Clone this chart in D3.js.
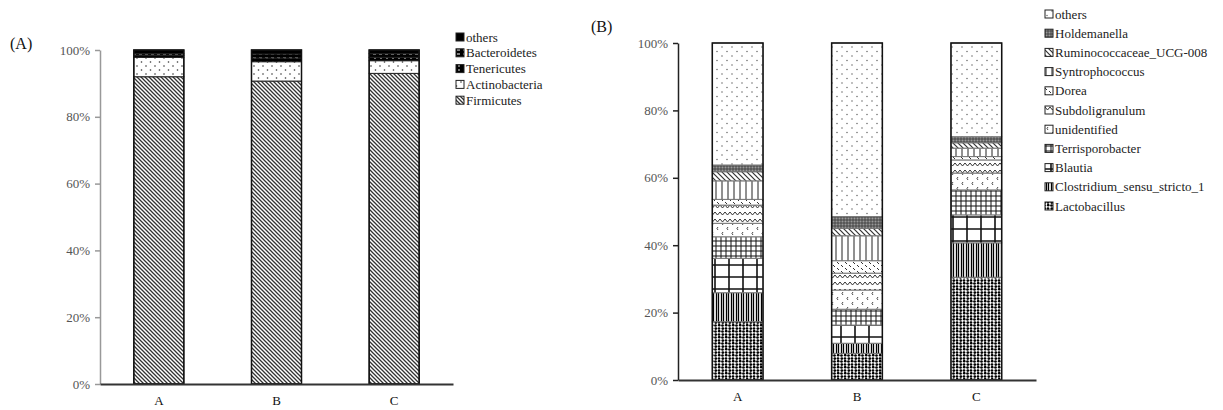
<!DOCTYPE html>
<html>
<head>
<meta charset="utf-8">
<style>
  body { margin: 0; background: white; }
  svg text { font-family: 'Liberation Serif', 'Times New Roman', serif !important; }
  .tick text { fill: #555; font-size: 13px; }
  .xlab .tick text { fill: #111; }
  .legend text { font-size: 13px; fill: #222; }
  .plabel { font-size: 16px; fill: #111; }
</style>
</head>
<body>
<script src="https://d3js.org/d3.v7.min.js"></script>
<div id="chart"></div>
<script>
// samples
var samples = ["A", "B", "C"];
var yTicks = [0, 20, 40, 60, 80, 100];

// panel A: phyla, bottom to top
var phyla = ["Firmicutes", "Actinobacteria", "Tenericutes", "Bacteroidetes", "others"];
var phylaA = [92.0, 5.8, 0.6, 0.5, 1.1];
var phylaB = [90.7, 5.8, 1.1, 1.2, 1.2];
var phylaC = [93.0, 3.8, 1.0, 1.1, 1.1];

// panel B: genera, bottom to top
var genera = ["Lactobacillus", "Clostridium_sensu_stricto_1", "Blautia", "Terrisporobacter",
  "unidentified", "Subdoligranulum", "Dorea", "Syntrophococcus", "Ruminococcaceae_UCG-008",
  "Holdemanella", "others"];
var generaA = [17.3, 8.6, 10.2, 6.4, 4.0, 5.4, 1.7, 5.5, 2.7, 2.0, 36.2];
var generaB = [7.9, 3.0, 5.4, 4.7, 5.7, 5.0, 3.7, 7.4, 2.2, 3.5, 51.5];
var generaC = [30.5, 10.2, 8.3, 7.4, 5.0, 3.9, 1.0, 2.5, 1.6, 1.8, 27.8];

var svg = d3.select("#chart").append("svg")
  .attr("width", 1223).attr("height", 410);
var defs = svg.append("defs");

// helper to make a fill pattern
function pat(id, w, h, bg, draw) {
  var p = defs.append("pattern").attr("id", id)
    .attr("patternUnits", "userSpaceOnUse").attr("width", w).attr("height", h);
  p.append("rect").attr("width", w).attr("height", h).attr("fill", bg);
  draw(p);
}
function dots(p, pts, r, c) {
  pts.forEach(function(d) { p.append("circle").attr("cx", d[0]).attr("cy", d[1]).attr("r", r).attr("fill", c); });
}
function path(p, d, sw, c) {
  p.append("path").attr("d", d).attr("fill", "none").attr("stroke", c).attr("stroke-width", sw);
}

// phyla patterns
pat("p0", 4, 4, "#fff", function(p) { path(p, "M0,0L4,4M-1,3L1,5M3,-1L5,1", 1.3, "#333"); });
pat("p1", 9, 8, "#fff", function(p) { dots(p, [[2, 2], [6.5, 6]], 0.8, "#333"); });
pat("p2", 6, 4, "#000", function(p) { dots(p, [[3, 2]], 0.8, "#fff"); });
pat("p3", 6, 4, "#000", function(p) { path(p, "M1,2L4,2", 1, "#fff"); });
pat("p4", 4, 4, "#000", function(p) {});

// genus patterns
pat("g0", 7, 6, "#fff", function(p) { dots(p, [[1.5, 1.5], [5, 4.5], [5.2, 1.2], [1.8, 4.6]], 1.35, "#000"); });
pat("g1", 5, 4, "#fff", function(p) { path(p, "M1.5,0V4M3.5,0V4", 1.3, "#000"); });
pat("g2", 14, 12, "#fff", function(p) { path(p, "M1,0V12M0,1H14", 1.6, "#111"); });
pat("g3", 5, 5, "#fff", function(p) { path(p, "M1,0V5M0,1H5", 1, "#111"); });
pat("g4", 10, 10, "#fff", function(p) { path(p, "M3,2L2,3.5L3,5M8,7L7,8.5L8,10", 1, "#444"); });
pat("g5", 10, 7, "#fff", function(p) { path(p, "M0,2L2.5,5L5,2L7.5,5L10,2", 1, "#333"); });
pat("g6", 8, 6, "#fff", function(p) { path(p, "M1,1L3,3M5,4L7,6", 1, "#333"); });
pat("g7", 6, 4, "#fff", function(p) { path(p, "M2,0V4", 1, "#222"); });
pat("g8", 5, 5, "#fff", function(p) { path(p, "M0,0L5,5M-1,4L1,6M4,-1L6,1", 1.2, "#333"); });
pat("g9", 3, 3, "#999", function(p) { path(p, "M1,0V3M0,1H3", 0.8, "#333"); });
pat("g10", 10, 9, "#fff", function(p) { dots(p, [[2, 2], [7, 6.5]], 0.7, "#555"); });

function panel(opt) {
  var x = d3.scaleBand().domain(samples).range([opt.left, opt.right]).paddingInner(0.575).paddingOuter(0.2875);
  var y = d3.scaleLinear().domain([0, 100]).range([opt.bottom, opt.top]);

  var rows = samples.map(function(s, i) {
    var r = { sample: s };
    opt.keys.forEach(function(k, j) { r[k] = opt.values[i][j]; });
    return r;
  });
  var stack = d3.stack().keys(opt.keys)(rows);

  var g = svg.append("g");
  g.selectAll("g.layer").data(stack).enter().append("g")
    .attr("fill", function(d, i) { return "url(#" + opt.prefix + i + ")"; })
    .selectAll("rect").data(function(d) { return d; }).enter().append("rect")
    .attr("x", function(d) { return x(d.data.sample); })
    .attr("width", x.bandwidth())
    .attr("y", function(d) { return y(d[1]); })
    .attr("height", function(d) { return y(d[0]) - y(d[1]); })
    .attr("stroke", opt.barStroke).attr("stroke-width", 1);

  // outline around each bar
  g.selectAll("rect.outline").data(samples).enter().append("rect")
    .attr("x", function(d) { return x(d); }).attr("width", x.bandwidth())
    .attr("y", y(100)).attr("height", y(0) - y(100))
    .attr("fill", "none").attr("stroke", "#111").attr("stroke-width", 1.5);

  var ya = svg.append("g").attr("transform", "translate(" + opt.left + ",0)")
    .call(d3.axisLeft(y).tickValues(yTicks).tickSize(5).tickSizeOuter(0).tickPadding(5)
      .tickFormat(function(d) { return d + "%"; }));
  ya.attr("font-family", null);
  ya.selectAll("path,line").attr("stroke", opt.axisColor).attr("stroke-width", 1.5);

  var xa = svg.append("g").attr("class", "xlab").attr("transform", "translate(0," + opt.bottom + ")")
    .call(d3.axisBottom(x).tickSize(0).tickPadding(12));
  xa.attr("font-family", null);
  xa.select("path").attr("stroke", "#333").attr("stroke-width", 2);

  svg.append("text").attr("class", "plabel").attr("x", opt.labelX).attr("y", opt.labelY).text(opt.label);

  var lg = svg.append("g").attr("class", "legend");
  var items = opt.keys.slice().reverse();
  items.forEach(function(k, i) {
    var idx = opt.keys.length - 1 - i;
    var ly = opt.legY + i * opt.legStep;
    lg.append("rect").attr("x", opt.legX).attr("y", ly - 4).attr("width", 8).attr("height", 8)
      .attr("fill", "url(#" + opt.prefix + idx + ")").attr("stroke", "#222").attr("stroke-width", 1);
    lg.append("text").attr("x", opt.legX + 10).attr("y", ly).attr("dy", "0.35em")
      .attr("font-family", "Liberation Serif").text(k);
  });
}

panel({ left: 100, right: 453, top: 50, bottom: 384, keys: phyla, values: [phylaA, phylaB, phylaC],
  prefix: "p", barStroke: "#222", axisColor: "#999", label: "(A)", labelX: 10, labelY: 49,
  legX: 456, legY: 37, legStep: 15.8 });
panel({ left: 678, right: 1036, top: 43, bottom: 380, keys: genera, values: [generaA, generaB, generaC],
  prefix: "g", barStroke: "#777", axisColor: "#222", label: "(B)", labelX: 591, labelY: 32,
  legX: 1045, legY: 14, legStep: 19.2 });
</script>
</body>
</html>
